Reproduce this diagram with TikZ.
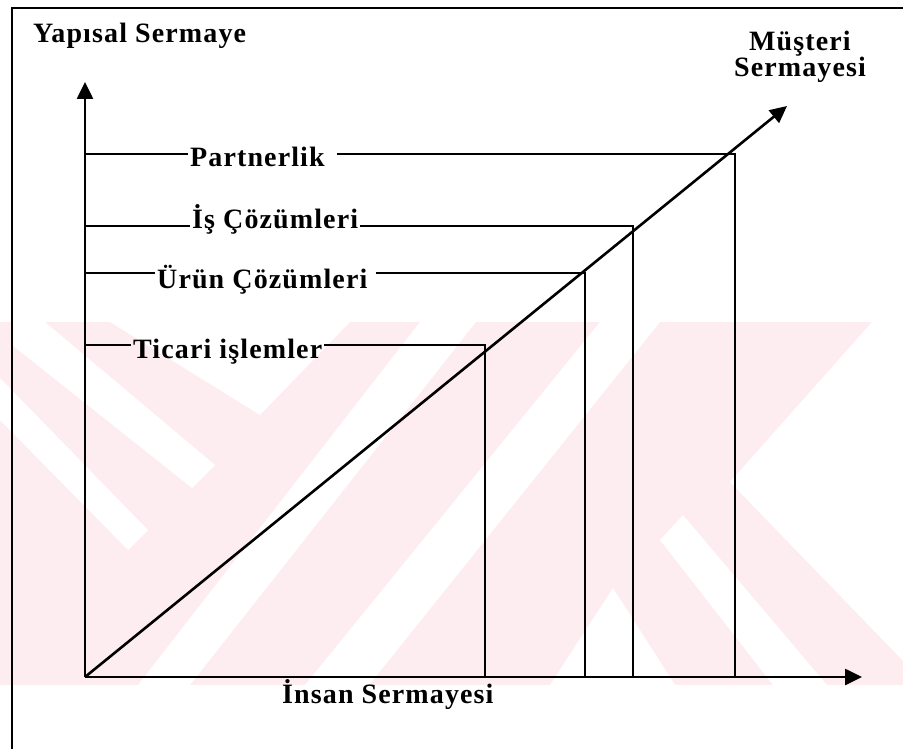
\documentclass[tikz,border=0pt]{standalone}
\usepackage{fontspec}
\setmainfont{Liberation Serif}
\newfontfamily\lblfont{Liberation Serif}[LetterSpace=4]
\usetikzlibrary{arrows.meta}
\definecolor{wm}{RGB}{253,236,240}
\tikzset{
  lbl/.style={font=\lblfont\fontsize{28}{23}\selectfont\bfseries, inner ysep=0pt, inner xsep=2pt, anchor=base west},
  axis/.style={line width=2.6pt, -{Triangle[length=17pt,width=16pt]}},
  conn/.style={line width=2.4pt},
  frame/.style={line width=2.5pt},
}
\begin{document}
\begin{tikzpicture}[x=1pt,y=-1pt]
\useasboundingbox (0,0) rectangle (903,749);
% watermark
\begin{scope}
\clip (0,322) rectangle (903,685);
\fill[wm] (0,322) rectangle (903,685);
\fill[white] (12,322) -- (45,322) -- (215,465) -- (192,488) -- (12,345) -- cycle;
\fill[white] (0,378) -- (148,530) -- (128,550) -- (0,420) -- cycle;
\fill[white] (110,322) -- (350,322) -- (260,415) -- cycle;
\fill[white] (420,322) -- (476,322) -- (190,685) -- (138,685) -- cycle;
\fill[white] (600,322) -- (660,322) -- (369,685) -- (305,685) -- cycle;
\fill[white] (613,588) -- (675,685) -- (550,685) -- cycle;
\fill[white] (872,322) -- (910,322) -- (910,668) -- (730,482) -- cycle;
\fill[white] (683,515) -- (827,685) -- (773,685) -- (660,540) -- cycle;
\end{scope}
% frame
\draw[frame] (12,760) -- (12,8) -- (910,8);
% axes
\coordinate (O) at (85,677);
\coordinate (ytip) at (85,82);
\coordinate (xtip) at (862,677);
\coordinate (dtip) at (787,106);
\draw[axis] (O) -- (ytip);
\draw[axis] (O) -- (xtip);
\draw[axis] (O) -- (dtip);
% corners
\coordinate (cP) at (735,154);
\coordinate (cI) at (633,226);
\coordinate (cU) at (585,273);
\coordinate (cT) at (485,345);
\coordinate (lP) at (85,154);
\coordinate (lI) at (85,226);
\coordinate (lU) at (85,273);
\coordinate (lT) at (85,345);
% labels
\node[lbl] (yap) at (31,43) {Yapısal Sermaye};
\node[lbl, anchor=north, align=center] (mus) at (800,31) {Müşteri\\Sermayesi};
\node[lbl] (par) at (188,167) {Partnerlik};
\node[lbl] (is) at (190,229) {İş Çözümleri};
\node[lbl] (urun) at (155,288) {Ürün Çözümleri};
\node[lbl] (tic) at (131,358) {Ticari işlemler};
\node[lbl] (ins) at (280,703) {İnsan Sermayesi};
% connectors
\draw[conn] (lP) -- (par.west |- lP);
\draw[conn] ([xshift=10pt]par.east |- lP) -- (cP) -- (cP |- O);
\draw[conn] (lI) -- (is.west |- lI);
\draw[conn] (is.east |- lI) -- (cI) -- (cI |- O);
\draw[conn] (lU) -- (urun.west |- lU);
\draw[conn] ([xshift=6pt]urun.east |- lU) -- (cU) -- (cU |- O);
\draw[conn] (lT) -- (tic.west |- lT);
\draw[conn] (tic.east |- lT) -- (cT) -- (cT |- O);
\end{tikzpicture}
\end{document}
